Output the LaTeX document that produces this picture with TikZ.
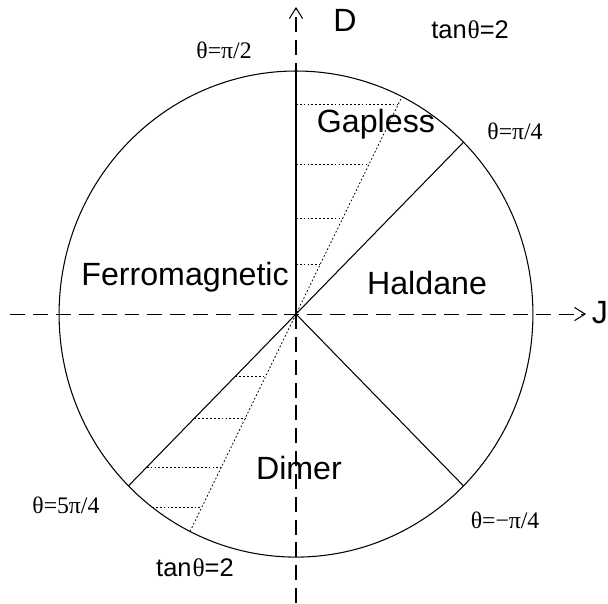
\documentclass[tikz,border=0pt]{standalone}
\usepackage{fontspec}
\setmainfont{Liberation Sans}
\newfontfamily\timesfont{Liberation Serif}
\usetikzlibrary{positioning,calc,arrows.meta}
\tikzset{
  axisline/.style={dash pattern=on 8.5pt off 4.5pt, line width=0.6pt,
    -{Straight Barb[length=6pt,width=7.5pt,line width=0.6pt]}},
  hatchline/.style={dash pattern=on 1pt off 1.2pt, line width=0.45pt},
  phaselabel/.style={font=\fontsize{18.3}{20}\selectfont},
  anglelabel/.style={font=\timesfont\fontsize{13.5}{15}\selectfont},
  tanlabel/.style={font=\fontsize{14.5}{16}\selectfont},
}

\begin{document}
\begin{tikzpicture}[x=0.0195cm,y=0.02cm,line width=0.6pt]
\useasboundingbox (-303.6,-289) rectangle (320,314);
\coordinate (O) at (0,0);
\coordinate (Jstart) at (-293,0);
\coordinate (Jend) at (297.5,0);
\coordinate (Dstart) at (0,-289);
\coordinate (Dend) at (0,307);
\coordinate (half) at (90:243);
\coordinate (quarter) at (45:243);
\coordinate (mquarter) at (-45:243);
\coordinate (fivequarter) at (225:243);
\coordinate (tanup) at (63.43:243);
\coordinate (tandown) at (243.43:243);

% phase boundary circle and axes
\draw (O) circle (243);
\draw[axisline] (Jstart) -- (Jend);
\draw[axisline] (Dstart) -- (Dend);
\draw (O) -- (half);
\draw (O) -- (quarter);
\draw (O) -- (mquarter);
\draw (O) -- (fivequarter);
\draw[hatchline] (tandown) -- (tanup);

% hatching of the gapless wedges
\foreach \h in {210,150,96,50}
  \draw[hatchline] (0,\h) -- (\h/2,\h);
\foreach \d in {62,104,153}
  \draw[hatchline] (-\d,-\d) -- (-\d/2,-\d);
\draw[hatchline] (-147.6,-193) -- (-96.5,-193);

% axis labels
\node[phaselabel] (Dlabel) at (50.3,294) {D};
\node[phaselabel] (Jlabel) at (311.8,1) {J};

% phases
\node[phaselabel] (gapless) at (82,190) {Gapless};
\node[phaselabel] (ferro) at (-113.8,37) {Ferromagnetic};
\node[phaselabel] (haldane) at (134.4,31) {Haldane};
\node[phaselabel] (dimer) at (3,-154) {Dimer};

% boundary angles
\node[anglelabel] (halflabel) at (-73.8,264) {θ=π/2};
\node[anglelabel] (piq) at (224.6,183) {θ=π/4};
\node[anglelabel] (fivepiq) at (-236,-191) {θ=5π/4};
\node[anglelabel] (mpiq) at (214.4,-206) {θ=−π/4};
\node[tanlabel] (tantop) at (178.5,284) {tan\kern0.5pt{\timesfont θ}=2};
\node[tanlabel] (tanbot) at (-103.6,-254) {tan\kern0.5pt{\timesfont θ}=2};
\end{tikzpicture}
\end{document}
